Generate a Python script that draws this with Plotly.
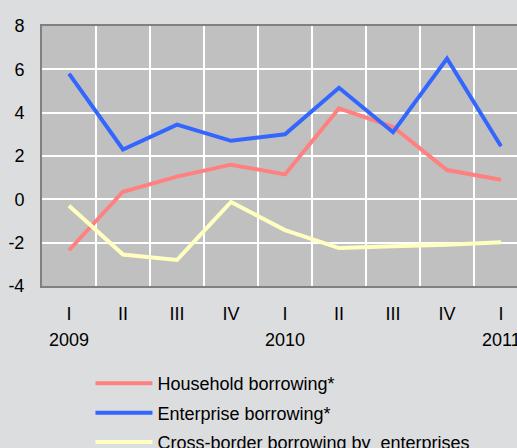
import plotly.graph_objects as go

quarters = ["I", "II", "III", "IV", "I", "II", "III", "IV", "I"]
years = ["2009", "", "", "", "2010", "", "", "", "2011"]
household = [-2.35, 0.35, 1.05, 1.6, 1.15, 4.2, 3.35, 1.35, 0.9]
enterprise = [5.8, 2.3, 3.45, 2.7, 3.0, 5.15, 3.1, 6.5, 2.45]
crossborder = [-0.3, -2.55, -2.8, -0.12, -1.42, -2.25, -2.17, -2.1, -1.98]
yticks = [-4, -2, 0, 2, 4, 6, 8]
yticklabels = ["-4", "-2", "0", "2", "4", "6", "8"]

names = ["Household borrowing*", "Enterprise borrowing*", "Cross-border borrowing by  enterprises"]
colors = ["#ff8080", "#3366ff", "#ffffc0"]
series = [household, enterprise, crossborder]

FONT = "Liberation Sans, Arial, sans-serif"
FS = 18
xs = list(range(len(quarters)))

fig = go.Figure()
for i, (nm, col, vals) in enumerate(zip(names, colors, series)):
    fig.add_trace(go.Scatter(x=xs, y=vals, mode="lines", name=nm,
                             line=dict(color=col, width=4),
                             legendgroup=str(i)))

for x, yr in zip(xs, years):
    if yr:
        fig.add_annotation(x=x, y=0, xref="x", yref="paper", text=yr,
                           showarrow=False, yshift=-54, yanchor="middle",
                           font=dict(family=FONT, size=FS, color="black"))

fig.update_layout(
    width=517, height=448,
    margin=dict(l=42, r=0, t=26, b=162, autoexpand=False),
    paper_bgcolor="#dcdddf",
    plot_bgcolor="#c0c0c0",
    font=dict(family=FONT, size=FS, color="black"),
    showlegend=True,
    legend=dict(x=0.102, y=-0.304,
                xanchor="left", yanchor="top", bgcolor="rgba(0,0,0,0)",
                font=dict(family=FONT, size=FS), tracegroupgap=3,
                itemwidth=57),
)
fig.update_xaxes(
    range=[-0.5, 8.296], tickvals=xs, ticktext=quarters,
    showgrid=False, zeroline=False,
    showline=True, linecolor="#808080", linewidth=2, mirror=True,
    ticklabelstandoff=10,
    minor=dict(tickvals=[k + 0.5 for k in xs[:-1]], showgrid=True,
               gridcolor="white", gridwidth=2),
)
fig.update_yaxes(
    range=[-4, 8], tickvals=yticks, ticktext=yticklabels,
    showgrid=True, gridcolor="white", gridwidth=2,
    zeroline=False, showline=True, linecolor="#808080", linewidth=2,
    mirror=False, ticklabelstandoff=12,
)
fig.write_html("out.html")
